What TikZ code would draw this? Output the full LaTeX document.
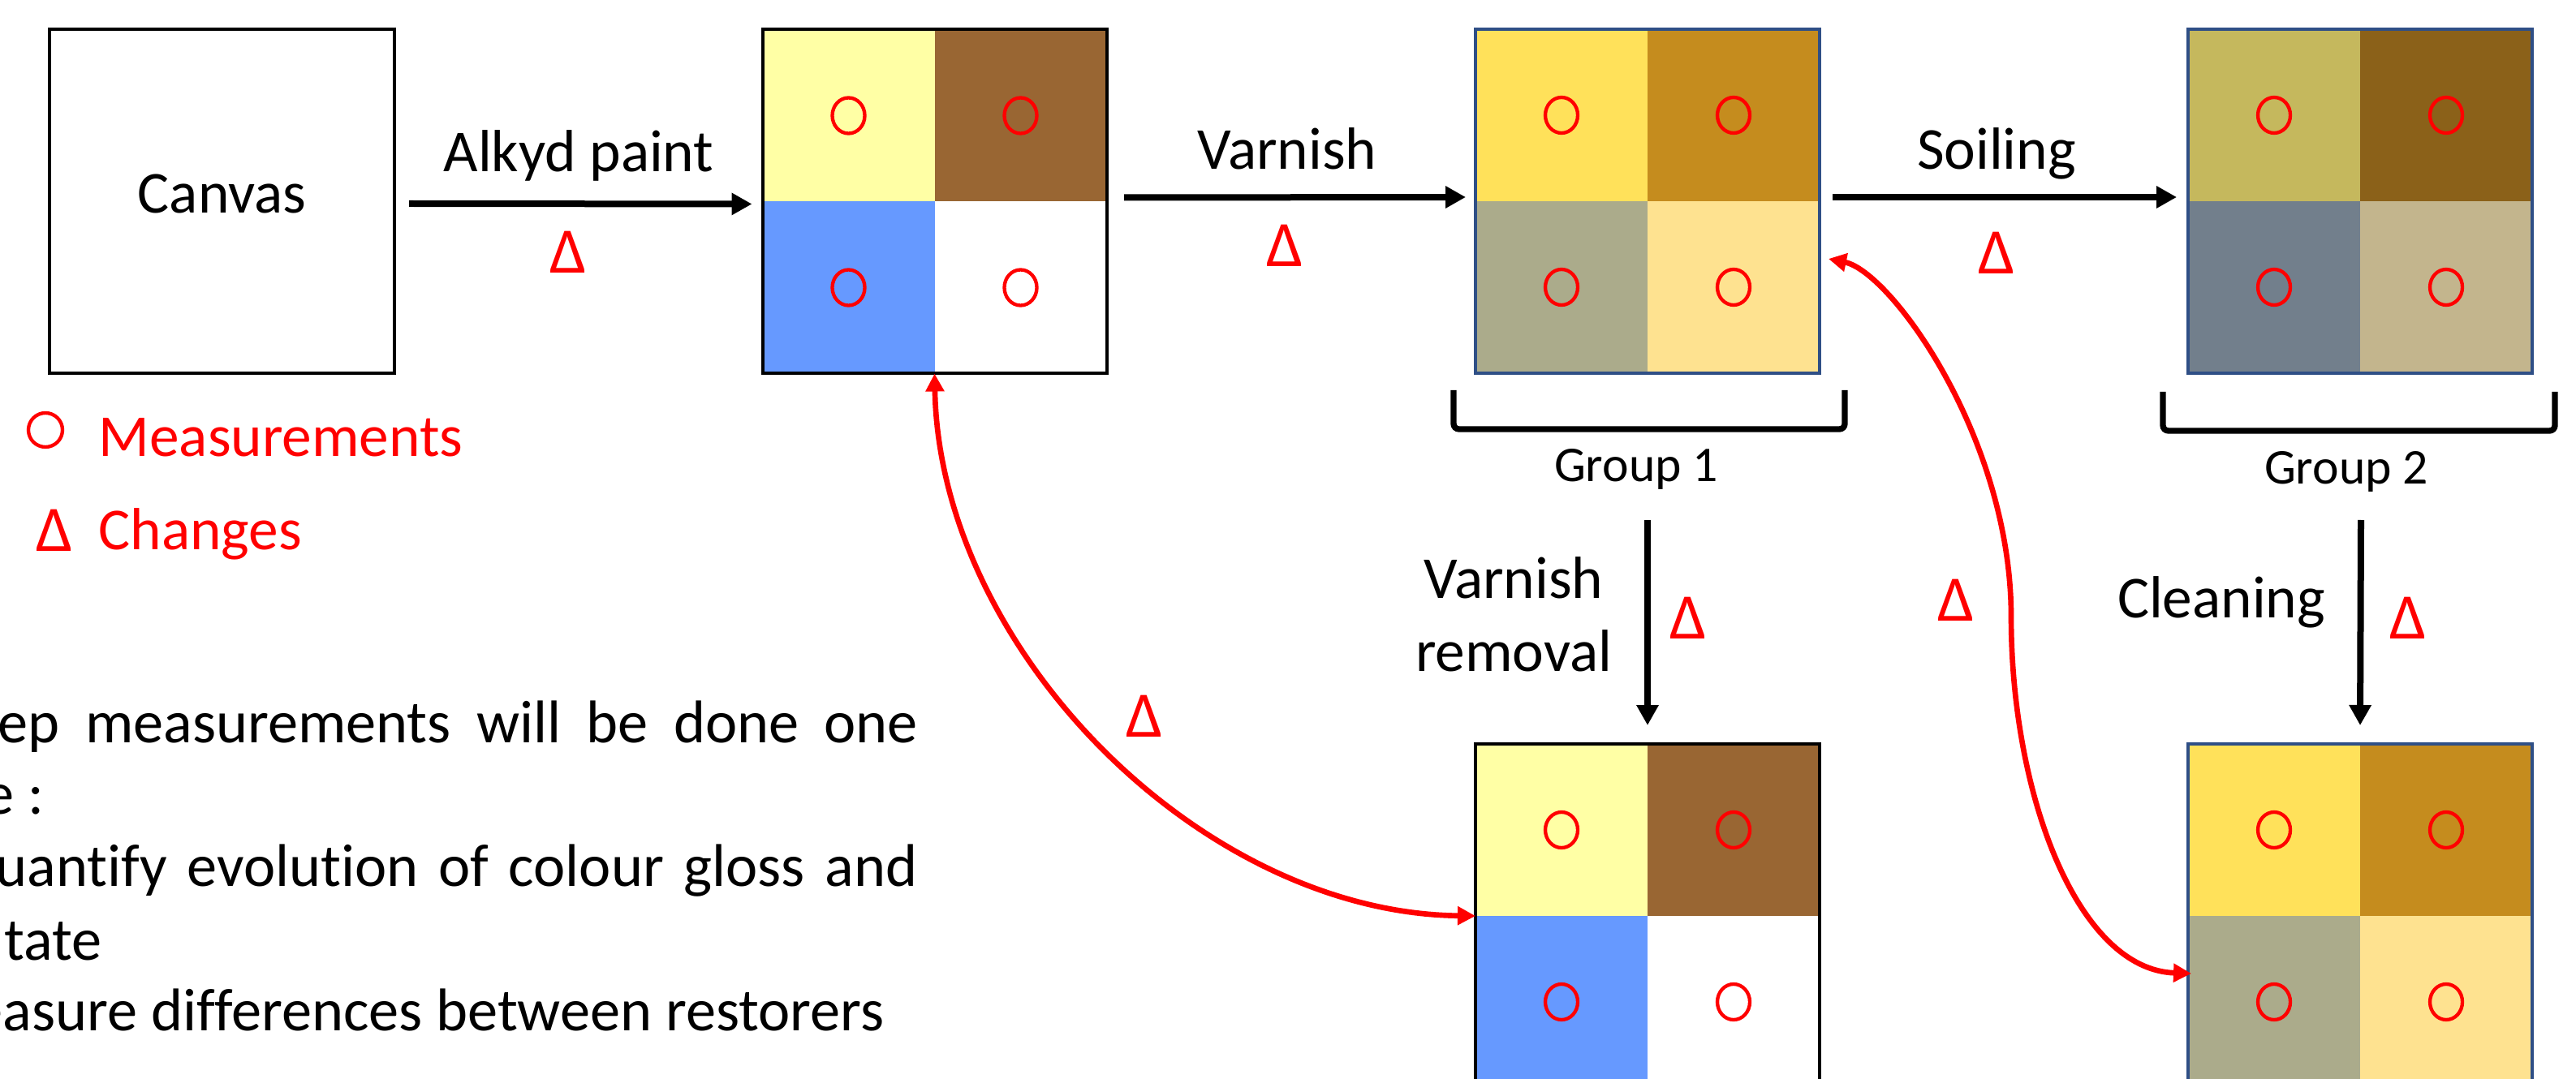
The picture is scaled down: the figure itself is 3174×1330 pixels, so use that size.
\documentclass[tikz,border=0pt]{standalone}
\usepackage{fontspec}
\setmainfont{Carlito}[Ligatures=NoCommon]
\usetikzlibrary{arrows.meta,calc}
\definecolor{ltyel}{HTML}{FFFFA5}
\definecolor{brn}{HTML}{996633}
\definecolor{blu}{HTML}{6699FF}
\definecolor{gyel}{HTML}{FFE15A}
\definecolor{ggold}{HTML}{C58C1E}
\definecolor{ggrey}{HTML}{ABAB8B}
\definecolor{gpale}{HTML}{FEE290}
\definecolor{solive}{HTML}{C5B85D}
\definecolor{sbrown}{HTML}{8B6119}
\definecolor{sslate}{HTML}{727F8C}
\definecolor{stan}{HTML}{C3B58D}
\definecolor{frameblue}{HTML}{2F4F86}
\definecolor{mred}{HTML}{FF0000}
\tikzset{
 sqbox/.style={draw=none, minimum width=127.2pt, minimum height=127.2pt, inner sep=0pt, outer sep=0pt},
 canvasbox/.style={draw=black, line width=1.2pt, minimum width=127.5pt, minimum height=127.2pt, inner sep=0pt, outer sep=0pt},
 blkframe/.style={draw=black, line width=1.2pt},
 bluframe/.style={draw=frameblue, line width=1pt},
 meas/.style={draw=mred, line width=1.3pt},
 flow/.style={line width=2.4pt, -{Triangle[length=7.5pt,width=7.8pt]}},
 redlink/.style={draw=mred, line width=2pt, {Triangle[length=6.6pt,width=6.6pt]}-{Triangle[length=6.6pt,width=6.6pt]}},
 txt/.style={font=\fontsize{22}{27}\selectfont, inner sep=0pt},
 delta/.style={font=\fontsize{24}{28}\selectfont, text=mred, inner sep=0pt},
 grp/.style={font=\fontsize{18.5}{22}\selectfont, inner sep=0pt},
 brk/.style={line width=2.2pt, rounded corners=2pt},
 body/.style={font=\fontsize{22.3}{27}\selectfont, inner sep=0pt},
}
\newcommand{\quadsq}[7]{%
 \node[sqbox] (#1) at #2 {};
 \fill[#3] (#1.north west) rectangle (#1.center);
 \fill[#4] (#1.north) rectangle (#1.east);
 \fill[#5] (#1.west) rectangle (#1.south);
 \fill[#6] (#1.center) rectangle (#1.south east);
 \draw[#7] (#1.north west) rectangle (#1.south east);
 \foreach \corner in {north west, north east, south west, south east}
   \draw[meas] ($(#1.center)!0.5!(#1.\corner)$) ellipse [x radius=6pt, y radius=6.6pt];
}
\begin{document}
\begin{tikzpicture}[x=0.3pt,y=-0.3pt]
\useasboundingbox (0,0) rectangle (3174,1330);
\clip (0,0) rectangle (3174,1330);

% boxes
\node[canvasbox, txt, text height=14pt, text depth=5pt] (canvas) at (273.5,248) {Canvas};
\quadsq{s2}{(1151.5,248.5)}{ltyel}{brn}{blu}{white}{blkframe}
\quadsq{s3}{(2030,248)}{gyel}{ggold}{ggrey}{gpale}{bluframe}
\quadsq{s4}{(2908,248)}{solive}{sbrown}{sslate}{stan}{bluframe}
\quadsq{s5}{(2030,1129)}{ltyel}{brn}{blu}{white}{blkframe}
\quadsq{s6}{(2908,1129)}{gyel}{ggold}{ggrey}{gpale}{bluframe}

% flow arrows
\draw[flow] ([xshift=5.4pt,yshift=-0.9pt]canvas.east) -- ([xshift=-3.9pt,yshift=-0.9pt]s2.west);
\draw[flow] ([xshift=6.5pt,yshift=1.5pt]s2.east) -- ([xshift=-3.6pt,yshift=1.5pt]s3.west);
\draw[flow] ([xshift=4.8pt,yshift=1.5pt]s3.east) -- ([xshift=-4.2pt,yshift=1.5pt]s4.west);
\coordinate (v1) at (2030,641);
\coordinate (v2) at (2909,641);
\draw[flow] (v1) -- ([yshift=6.9pt]s5.north);
\draw[flow] (v2) -- ([yshift=6.9pt]s6.north);

% labels
\node[txt, anchor=base] (lalkyd) at (713,212) {Alkyd paint};
\node[delta, anchor=base] (d1) at (700,337) {Δ};
\node[txt, anchor=base] (lvarn) at (1586,209) {Varnish};
\node[delta, anchor=base] (d2) at (1583,329) {Δ};
\node[txt, anchor=base] (lsoil) at (2460,209) {Soiling};
\node[delta, anchor=base] (d3) at (2460,338) {Δ};
\node[grp, anchor=base] (g1) at (2016,594) {Group 1};
\node[grp, anchor=base] (g2) at (2891,597) {Group 2};
\node[txt, align=center] (lvrem) at (1865,757) {Varnish\\removal};
\node[delta, anchor=base] (d4) at (2080,787) {Δ};
\node[txt, anchor=base] (lclean) at (2737,761) {Cleaning};
\node[delta, anchor=base] (d5) at (2967,787) {Δ};
\node[delta, anchor=base] (d6) at (2410,765) {Δ};
\node[delta, anchor=base] (d7) at (1410,908) {Δ};

% brackets
\draw[brk] (1791,481) -- (1791,529) -- (2273,529) -- (2273,481);
\draw[brk] (2665,483) -- (2665,531) -- (3148,531) -- (3148,483);

% red links
\coordinate (r2a) at ($(s3.east)+(11,71)$);
\coordinate (r2m) at (2478,760);
\coordinate (r2b) at ($(s6.west)+(4,71)$);
\draw[redlink] (s2.south) .. controls (1158,800) and (1480,1125) .. (s5.west);
\draw[redlink] (r2a) .. controls (2330,335) and (2478,540) .. (r2m) .. controls (2478,980) and (2560,1195) .. (r2b);

% legend
\node[circle, draw=mred, line width=1.3pt, minimum size=12.6pt, inner sep=0pt] (legc) at (56,530) {};
\node[txt, text=mred, anchor=base west] (lmeas) at (121,563) {Measurements};
\node[delta, anchor=base] (legd) at (67,679) {Δ};
\node[txt, text=mred, anchor=base west] (lchg) at (121,677) {Changes};

% body text
\node[body, anchor=base west] (t1) at (-3,915) {\hbox to 340pt{ep\hfill measurements\hfill will\hfill be\hfill done\hfill one}};
\node[body, anchor=base east] (t2) at (55,1003) {e :};
\node[body, anchor=base west] (t3) at (-6,1092) {\hbox to 340.8pt{uantify\hfill evolution\hfill of\hfill colour\hfill gloss\hfill and}};
\node[body, anchor=base west] (t4) at (5,1183) {tate};
\node[body, anchor=base east] (t5) at (1090,1270) {easure differences between restorers};
\end{tikzpicture}
\end{document}
